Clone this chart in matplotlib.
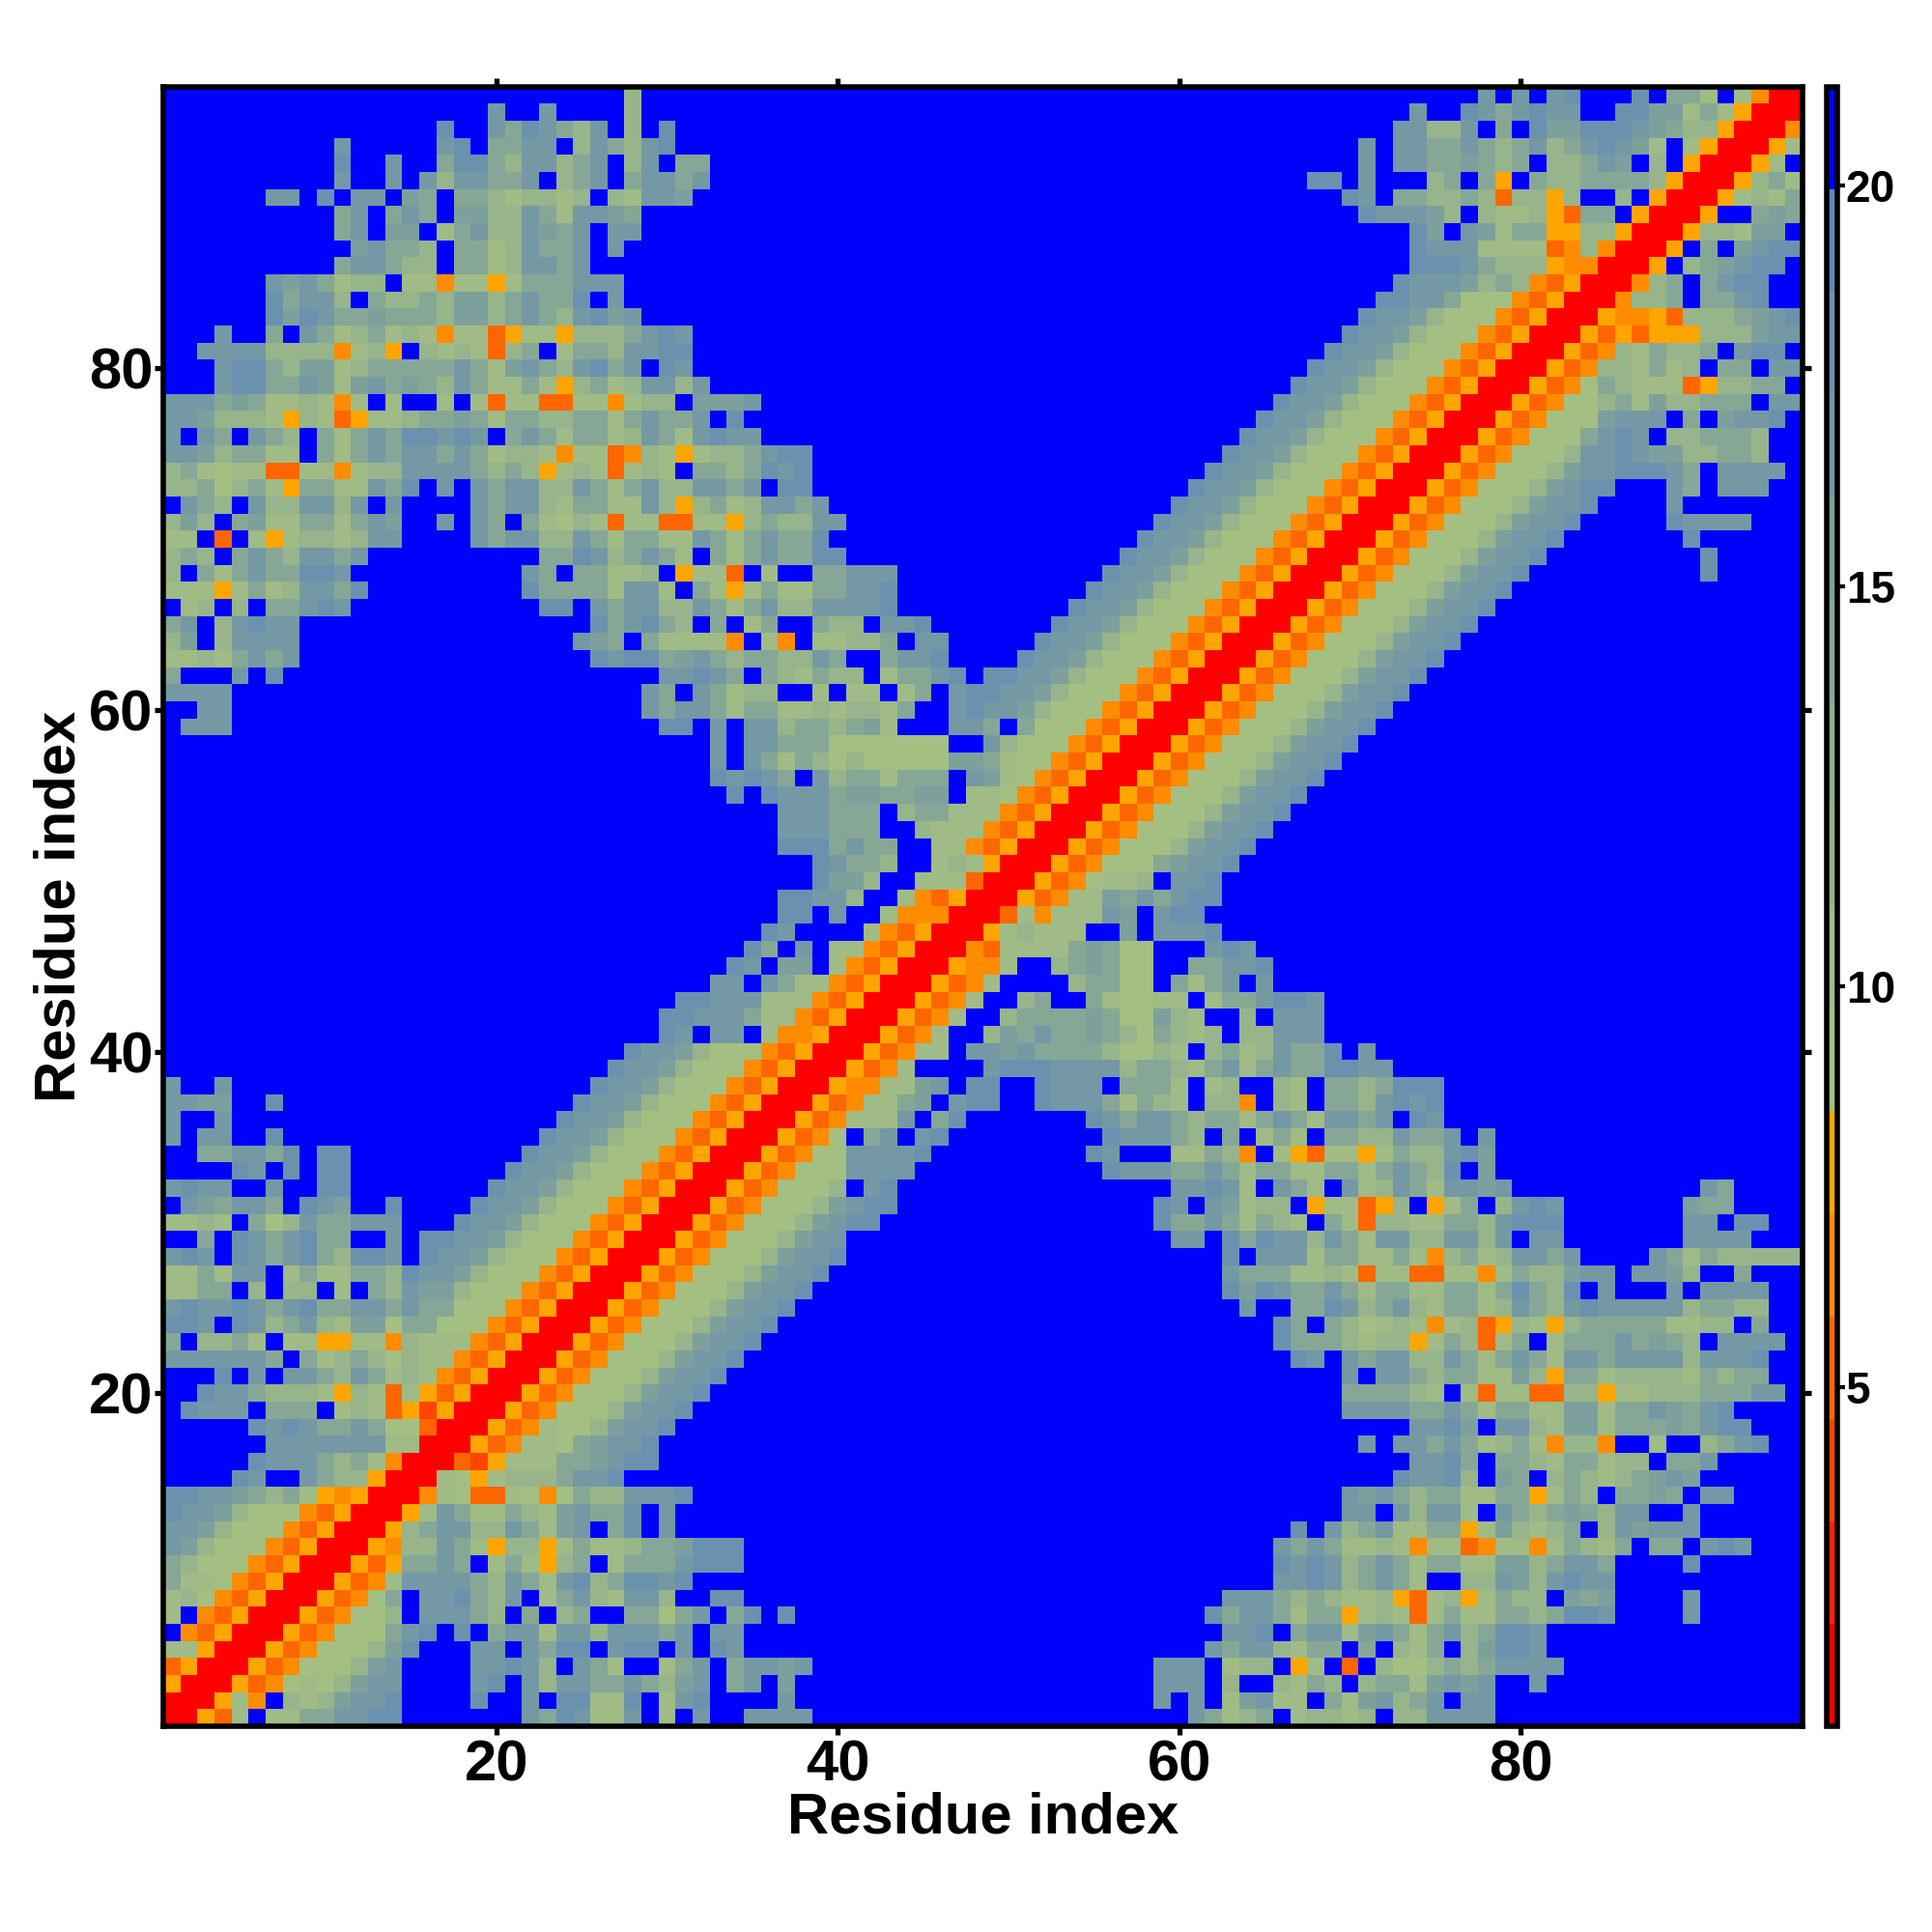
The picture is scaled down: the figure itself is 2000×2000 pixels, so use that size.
import numpy as np
import matplotlib
matplotlib.use("Agg")
import matplotlib.pyplot as plt
from matplotlib.colors import ListedColormap, BoundaryNorm

plt.rcParams['font.family'] = ['Liberation Sans', 'DejaVu Sans']
plt.rcParams['font.weight'] = 'bold'

n_res = 96
level_edges = [0.76, 2.04, 3.32, 4.6, 5.88, 7.16, 8.44, 9.72, 11.0, 12.28, 13.56, 14.84, 16.12, 17.4, 18.68, 19.96, 21.25]
level_colors = ['#FF0000', '#FF2200', '#FF4500', '#FF6600', '#FF8C00', '#FFA500',
                '#A4BF82', '#A0BB85', '#97B48A', '#8EAD90', '#86A796', '#7DA09C',
                '#7499A4', '#6A92AE', '#5C88BA', '#0000FF']
tick_vals = [20, 40, 60, 80]
cbar_ticks = [5, 10, 15, 20]

# usual run of levels up to the diagonal
T = "dccb866643500"

# upper triangle, "col:levels" per residue row. hex digit = colour level, . or missing = blue
rows = {
    96: "28:8 78:c.c.cd...d.aa7.7400",
    95: "20:c 23:c 28:8 74:c 77:dcacdcc..ddbb7a7500",
    94: "17:d 20:cadca8c.8.d 73:cc88c.a.dbbdddcba88500",
    93: "11:c 17:cd 20:aacc.8ca8cd 71:c 73:ccaaca8ac8acdcb7.7500",
    92: "11:d 14:c 17:add 20:a8cc8ac.8c.aa 71:c 73:ccaaba8a.88acb.8.500",
    91: "11:c 14:c 16:c8ccaac.8ac.accac 68:dd 71:c 75:8a.a5.a88aaaa8500",
    90: "7:cc 10:d.cc.ba.aa878878.87ccb 70:dc 73:aa88a838858..8.500",
    89: "11:ac.aca.bb88ca7ccba 71:dcccb8.877853aa.500",
    88: "11:ac.bb.7ac88cbac.cc 74:db.cb7aa5588500",
    87: "12:bcaa8.aa78caac.c 74:dccc7777348400",
    86: "11:acca88.aa78ccac 74:dddca88854400",
    85: "7:cbca788.7747757aaaccc 73:dcccb8a843500",
    84: "7:dacc8.a88a8bb8acaad.c 72:ddcca66643500",
    83: "7:dbdcaabaaa8bb8aca8cdbc 71:" + T,
    82: "4:c 7:a.ca78a78747735775888acdc 70:" + T,
    81: "3:cccc88884785.878738a.7aa8ccdd 69:" + T,
    80: "4:cdda8bb78aaaaaca7bca8cdac.dc 68:" + T,
    79: "4:cddaacb7bcaba8ca77a758a78cc8c 67:" + T,
    78: "1:cccaba778747.7..7.737733774788.bbbc 66:" + T,
    77: "1:ccb888758735778aaba7aa88aa7acaac.d. 65:" + T,
    76: "1:c.ca.ca8.a7acaddcdc.aca7aa78ca7cdcc 64:" + T,
    75: "1:ccb8aa77.a7acaccaca788747734875788acdd 63:" + T,
    74: "1:8a767733774788cccca8a857873787.aa8adcd 62:" + T,
    73: "1:88a68a75aa77cad.c.cacc88ca7ac88ccac.dd 61:" + T,
    72: "1:.ca8.c88cc8c.c....cacc87aa77c858a78ccac 60:" + T,
    71: "1:8b8.ab77aa7acb..c.ca.a7687377337758a88cc 59:" + T,
    70: "1:77.3.7578878cc....cacc88ca7aa77ca7acaad 58:" + T,
    69: "1:8a8.aca8ccac 23:aadc8aca7.a7acaadd 57:" + T,
    68: "1:8.a7acaaddc 22:ca.aa778.5773.7..aaccc 56:" + T,
    67: "1:77757a78ccad 22:daaaa7cc7.a757a77aaccd 55:" + T,
    66: "1:.78.8.aacdc 23:dd.cacc88ca7ac88ccccd 54:" + T,
    65: "1:ac.8cdcc 26:dacda8.a.7a..a88.ccd 53:" + T,
    64: "1:8b.8cccc 25:cba.a77774.74.7788a.cc 52:" + T,
    63: "1:7787acac 26:dcddabca8aa88ca..accd 51:" + T,
    62: "1:a...c.d 30:ccdca.a87a88.7aacd.d 50:" + T,
    61: "1:cccc 29:ca.ca788..7.77.7a.cd 49:" + T,
    60: "3:cc 29:cacca7aa7787887a..c 48:" + T,
    59: "2:ccc 30:dd.c.cc8aa8ab7...cca.a66643500",
    58: "33:c.ccaaa6666666..c866643500",
    57: "33:c.ca7a86866666bba76643500",
    56: "33:dcdca.c8aa7aaa.cb7643500",
    55: "34:d.dcccabbaabb.77643500",
    54: "37:cccaaa.8aa77743500",
    53: "37:cccaaa..877743500",
    52: "37:dddacaa..7743500",
    51: "39:dcaa8..787500",
    50: "39:dbb8..777300",
    49: "37:ddcc8..743500",
    48: "37:dd.c..744400",
    47: "36:dc....743500",
    46: "35:da.c.7743500",
    45: "34:dc.bb.743500",
    44: "33:cc.ca7743500",
    43: "31:ddccc77743500",
    42: "30:ddccca7743500",
    41: "30:dc.cc.744500",
    40: "28:dccb866643500",
    39: "27:dccb866643500",
    38: "1:c 4:c 26:" + T,
    37: "1:ccbb 7:d 25:" + T,
    36: "1:c 4:c 24:" + T,
    35: "1:c.cc 7:d 23:" + T,
    34: "3:aaccad.dd 22:" + T,
    33: "5:dc.d.dd 21:" + T,
    32: "1:cdcc..c..dd 20:" + T,
    31: "2:cbacca.dcb..d 19:" + T,
    30: "1:7787.a68caaccc 18:" + T,
    29: "3:a.dcacdaa..c.d 17:" + T,
    28: "1:cdc.dcacda8ddc 16:" + T,
    27: "1:77a7cc.7a77aa8 15:" + T,
    26: "1:77aa.8.88.7.a8cbb866643500",
    25: "1:cdccdcacdaaccacaa66643500",
    24: "1:ddc.dc8ac87bb6aa66643500",
    23: "1:a.88a7.7755774877743500",
    22: "1:cccccca.a78a8687743500",
    21: "4:d.c.cca8ca78743500",
    20: "3:dcca88875873753500",
    19: "2:dccc.aaa.787352500",
    18: "6:dcdcaaca66300",
    17: "7:ccccccc7700",
    16: "6:dccca8a7400",
    15: "5:dc..ca88500",
    14: "1:ddccba8a754500",
    13: "1:" + T,
    12: "1:ccb866643500",
    11: "1:cb866643500",
    10: "1:a866643500",
    9: "1:a77643500",
    8: "1:78643500",
    7: "1:7.43500",
    6: "1:.43500",
    5: "1:77500",
    4: "1:3500",
    3: "1:500",
    2: "1:00",
    1: "1:0",
}

level_mid = [(level_edges[i] + level_edges[i + 1]) / 2 for i in range(16)]
dist = np.full((n_res, n_res), level_mid[15])
for row, text in rows.items():
    for seg in text.split():
        start, chars = seg.split(":")
        for k, ch in enumerate(chars):
            col = int(start) + k
            lev = 15 if ch == "." else int(ch, 16)
            dist[row - 1, col - 1] = level_mid[lev]
            dist[col - 1, row - 1] = level_mid[lev]

cmap = ListedColormap(level_colors)
norm = BoundaryNorm(level_edges, cmap.N)

fig = plt.figure(figsize=(10, 10), dpi=200)
ax = fig.add_axes([169 / 2000, 1 - 1787 / 2000, 1697 / 2000, 1697.5 / 2000])
edges = np.arange(n_res + 1) + 0.5
mesh = ax.pcolormesh(edges, edges, dist, cmap=cmap, norm=norm, antialiased=False, linewidth=0, rasterized=True)
ax.set_xlim(0.5, n_res + 0.5)
ax.set_ylim(0.5, n_res + 0.5)
ax.set_xticks(tick_vals)
ax.set_yticks(tick_vals)
ax.tick_params(axis='both', which='major', top=True, right=True, length=3.2, width=1.9, labelsize=21.5)
ax.tick_params(axis='x', pad=1.8)
ax.tick_params(axis='y', pad=0.5)
for s in ax.spines.values():
    s.set_linewidth(2.0)
ax.set_xlabel("Residue index", fontsize=21.5, fontweight='bold', labelpad=-0.4)
ax.set_ylabel("Residue index", fontsize=21.5, fontweight='bold', labelpad=0.8)

cax = fig.add_axes([1890.5 / 2000, 1 - 1787 / 2000, 11 / 2000, 1697.5 / 2000])
cb = fig.colorbar(mesh, cax=cax, ticks=cbar_ticks)
cb.ax.minorticks_off()
cb.outline.set_linewidth(2.0)
cb.ax.tick_params(length=3, width=1.5, pad=0.3, labelsize=16.5)

fig.savefig("out.png", dpi=200)
